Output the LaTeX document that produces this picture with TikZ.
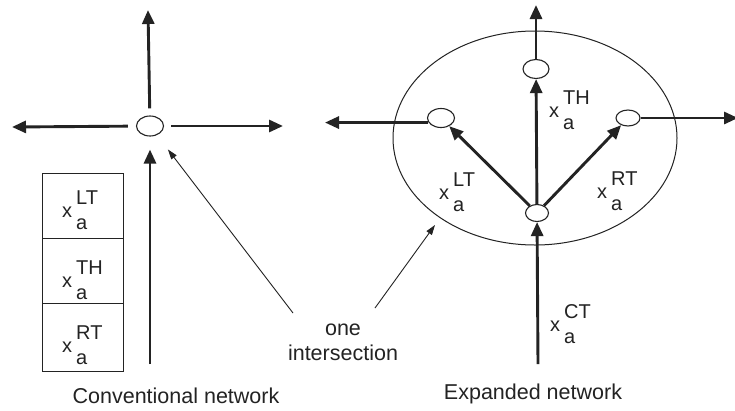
\documentclass[tikz,border=0pt]{standalone}
\usepackage{fontspec}
\setmainfont{Liberation Sans}
\usetikzlibrary{arrows.meta,shapes.geometric}
\definecolor{ink}{RGB}{35,35,35}
\newcommand\xlab[1]{x\kern4pt\rlap{\raisebox{13pt}{#1}}\raisebox{-12pt}{a}}
\begin{document}
\begin{tikzpicture}[x=1pt,y=-1pt,
  thickarrow/.style={draw=ink, line width=2.9pt, -{Triangle[length=14pt,width=12pt]}},
  thinarrow/.style={draw=ink, line width=0.9pt, -{Triangle[length=10pt,width=6.5pt]}},
  junction/.style={draw=ink, ellipse, line width=1.1pt, inner sep=0pt, fill=white},
  lab/.style={anchor=base west, inner sep=0pt, text=ink, font=\fontsize{20}{22}\selectfont},
  caption/.style={inner sep=0pt, text=ink, font=\fontsize{21.5}{25}\selectfont},
  cell/.style={draw=ink, line width=1pt, minimum width=81pt, inner sep=0pt}]
\useasboundingbox (0,0) rectangle (735,410);
\fill[white] (0,0) rectangle (735,410);

% ---------- conventional network ----------
\node[junction, minimum width=27pt, minimum height=20pt] (c) at (150,126) {};
\coordinate (cup) at (148,10);
\coordinate (cleft) at (12,127);
\coordinate (cright) at (283,126);
\coordinate (cbot) at (150,364);
\draw[thickarrow, shorten <=7pt] (c) -- (cup);
\draw[thickarrow, shorten <=8pt] (c) -- (cleft);
\draw[thickarrow, shorten <=7pt] (c) -- (cright);
\draw[thickarrow, shorten >=13pt] (cbot) -- (c);

\node[cell, minimum height=65pt] (k1) at (82.5,205.5) {};
\node[cell, minimum height=65pt] (k2) at (82.5,270.5) {};
\node[cell, minimum height=68pt] (k3) at (82.5,337) {};
\node[lab] (l1) at (62,217) {\xlab{LT}};
\node[lab] (l2) at (62,287) {\xlab{TH}};
\node[lab] (l3) at (62,352) {\xlab{RT}};

\node[caption, anchor=base] (cn) at (176,403) {Conventional network};

% ---------- expanded network ----------
\node[draw=ink, line width=1pt, ellipse, minimum width=284pt, minimum height=214pt, inner sep=0pt] (E) at (535,138) {};
\node[junction, minimum width=26pt, minimum height=19pt] (t) at (536,69) {};
\node[junction, minimum width=27pt, minimum height=19pt] (l) at (441,118) {};
\node[junction, minimum width=24pt, minimum height=16pt] (r) at (628,118) {};
\node[junction, minimum width=23pt, minimum height=17pt] (b) at (537,213) {};
\coordinate (tup) at (536,5);
\coordinate (lend) at (325,0);
\coordinate (rend) at (738,0);
\coordinate (bbot) at (538,364);
\draw[thickarrow] (t) -- (tup);
\draw[thickarrow] (l.200) -- (l.200 -| lend);
\draw[thickarrow] (r.east) -- (r.east -| rend);
\draw[thickarrow] (b) -- (l);
\draw[thickarrow] (b) -- (r);
\draw[thickarrow] (b) -- (t);
\draw[thickarrow] (bbot) -- (b);

\node[lab] (lt) at (549,117) {\xlab{TH}};
\node[lab] (ll) at (439,199) {\xlab{LT}};
\node[lab] (lr) at (597,198) {\xlab{RT}};
\node[lab] (lc) at (550,331) {\xlab{CT}};

\node[caption, anchor=base] (en) at (533,399) {Expanded network};

% ---------- one intersection ----------
\node[caption, align=center] (oi) at (343,342) {one\\intersection};
\coordinate (s1) at (293,313);
\coordinate (s2) at (375,308);
\coordinate (e2) at (435,225);
\draw[thinarrow, shorten >=18pt] (s1) -- (c);
\draw[thinarrow] (s2) -- (e2);
\end{tikzpicture}
\end{document}
